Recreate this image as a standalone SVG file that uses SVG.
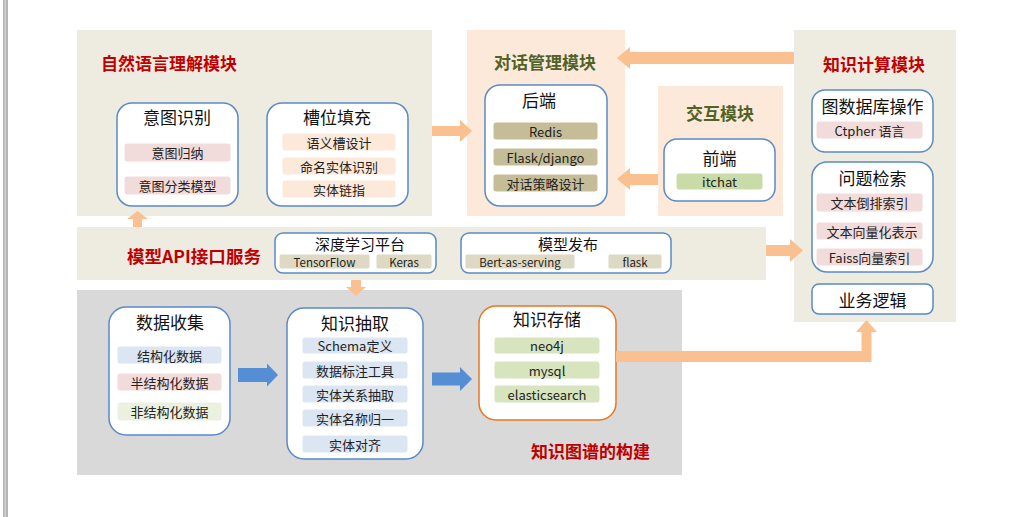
<svg xmlns="http://www.w3.org/2000/svg" width="1026" height="517" viewBox="0 0 1026 517">
<style>
.bg{fill:#fff}
.beige{fill:#EEEBE1}
.peachp{fill:#FDE9D9}
.gray{fill:#D9D9D9}
.box{fill:#fff;stroke:#5B8AC6;stroke-width:1.5}
.obox{fill:#fff;stroke:#E87722;stroke-width:1.5}
.pt{font-family:"Noto Sans CJK SC",sans-serif;font-size:17px;font-weight:bold;dominant-baseline:central}
.red{fill:#C00000}
.olive{fill:#4F6228}
.bt{font-family:"Noto Sans CJK SC",sans-serif;font-size:17px;fill:#111;text-anchor:middle;dominant-baseline:central}
.st{font-family:"Noto Sans CJK SC",sans-serif;font-size:15px;fill:#111;text-anchor:middle;dominant-baseline:central}
.lt{font-family:"Noto Sans CJK SC",sans-serif;font-size:13px;fill:#222;text-anchor:middle;dominant-baseline:central}
.sl{font-family:"Noto Sans CJK SC",sans-serif;font-size:11.5px;fill:#222;text-anchor:middle;dominant-baseline:central}
.pill{stroke:#fff;stroke-width:1}
.pink{fill:#F2DCDB}
.peach{fill:#FDE9D9}
.tan{fill:#C4BD97}
.ltan{fill:#DDD9C3}
.green{fill:#C9DBA6}
.lgreen{fill:#D7E4BD}
.vlgreen{fill:#EBF1DE}
.blue{fill:#DCE6F2}
.oarrow{fill:#FAC090}
.barrow{fill:#558ED5}
</style>
<rect class="bg" x="0" y="0" width="1026" height="517"/>
<rect x="3" y="0" width="5" height="517" fill="#B4B4B4"/>
<rect x="4.5" y="0" width="1.5" height="517" fill="#D0D0D0"/>

<!-- panels -->
<g id="nlu-panel">
  <rect class="beige" x="77" y="30" width="355" height="186"/>
  <text class="pt red" x="101" y="62">自然语言理解模块</text>
</g>
<g id="dialog-panel">
  <rect class="peachp" x="467" y="30" width="158" height="186"/>
  <text class="pt olive" x="545" y="61" text-anchor="middle">对话管理模块</text>
</g>
<g id="interact-panel">
  <rect class="peachp" x="658" y="86" width="125" height="130"/>
  <text class="pt olive" x="720" y="112" text-anchor="middle">交互模块</text>
</g>
<g id="kc-panel">
  <rect class="beige" x="794" y="30" width="162" height="292"/>
  <text class="pt red" x="874" y="63" text-anchor="middle">知识计算模块</text>
</g>
<g id="api-panel">
  <rect class="beige" x="77" y="227" width="689" height="53"/>
  <text class="pt red" x="127" y="255" font-size="16" textLength="134" lengthAdjust="spacingAndGlyphs">模型API接口服务</text>
</g>
<g id="kg-panel">
  <rect class="gray" x="77" y="290" width="605" height="185"/>
  <text class="pt red" x="531" y="450">知识图谱的构建</text>
</g>

<!-- nodes -->
<g id="intent">
  <rect class="box" x="117" y="103" width="121" height="103" rx="15"/>
  <text class="bt" x="177" y="116">意图识别</text>
  <rect class="pill pink" x="124" y="143" width="107" height="19" rx="3"/>
  <text class="lt" x="177.5" y="152.5">意图归纳</text>
  <rect class="pill pink" x="124" y="176" width="107" height="19" rx="3"/>
  <text class="lt" x="177.5" y="185.5">意图分类模型</text>
</g>
<g id="slot">
  <rect class="box" x="267" y="103" width="141" height="103" rx="15"/>
  <text class="bt" x="337" y="116">槽位填充</text>
  <rect class="pill peach" x="282" y="133" width="114" height="18" rx="3"/>
  <text class="lt" x="339" y="142">语义槽设计</text>
  <rect class="pill peach" x="282" y="157" width="114" height="18" rx="3"/>
  <text class="lt" x="339" y="166">命名实体识别</text>
  <rect class="pill peach" x="282" y="180" width="114" height="18" rx="3"/>
  <text class="lt" x="339" y="189">实体链指</text>
</g>
<g id="backend">
  <rect class="box" x="485" y="85" width="122" height="121" rx="15"/>
  <text class="bt" x="539" y="99">后端</text>
  <rect class="pill tan" x="493" y="122" width="105" height="18" rx="3"/>
  <text class="lt" x="545.5" y="131">Redis</text>
  <rect class="pill tan" x="493" y="148" width="105" height="18" rx="3"/>
  <text class="lt" x="545.5" y="157">Flask/django</text>
  <rect class="pill tan" x="493" y="174" width="105" height="18" rx="3"/>
  <text class="lt" x="545.5" y="183">对话策略设计</text>
</g>
<g id="frontend">
  <rect class="box" x="664" y="139" width="111" height="62" rx="13"/>
  <text class="bt" x="719.5" y="157">前端</text>
  <rect class="pill green" x="676" y="173" width="87" height="17" rx="3"/>
  <text class="lt" x="719.5" y="181.5">itchat</text>
</g>
<g id="graphdb">
  <rect class="box" x="812" y="90" width="121" height="62" rx="13"/>
  <text class="bt" x="872.5" y="105">图数据库操作</text>
  <rect class="pill pink" x="816" y="121" width="107" height="18" rx="3"/>
  <text class="lt" x="869.5" y="130">Ctpher 语言</text>
</g>
<g id="qsearch">
  <rect class="box" x="812" y="162" width="121" height="110" rx="15"/>
  <text class="bt" x="872.5" y="177">问题检索</text>
  <rect class="pill pink" x="816" y="193" width="107" height="19" rx="3"/>
  <text class="lt" x="869.5" y="202.5">文本倒排索引</text>
  <rect class="pill pink" x="816" y="222" width="107" height="18" rx="3"/>
  <text class="lt" x="872" y="231">文本向量化表示</text>
  <rect class="pill pink" x="816" y="248" width="107" height="18" rx="3"/>
  <text class="lt" x="869.5" y="257">Faiss向量索引</text>
</g>
<g id="bizlogic">
  <rect class="box" x="812" y="284" width="121" height="30" rx="7"/>
  <text class="bt" x="872.5" y="299">业务逻辑</text>
</g>
<g id="dlplatform">
  <rect class="box" x="275" y="233" width="161" height="40" rx="8"/>
  <text class="st" x="360" y="243.5">深度学习平台</text>
  <rect class="pill ltan" x="279" y="254" width="91" height="15" rx="2"/>
  <text class="sl" x="324.5" y="261.5">TensorFlow</text>
  <rect class="pill ltan" x="376" y="254" width="56" height="15" rx="2"/>
  <text class="sl" x="404" y="261.5">Keras</text>
</g>
<g id="deploy">
  <rect class="box" x="461" y="233" width="210" height="40" rx="8"/>
  <text class="st" x="568" y="243.5">模型发布</text>
  <rect class="pill ltan" x="465" y="254" width="110" height="15" rx="2"/>
  <text class="sl" x="520" y="261.5">Bert-as-serving</text>
  <rect class="pill ltan" x="608" y="254" width="54" height="15" rx="2"/>
  <text class="sl" x="635" y="261.5">flask</text>
</g>
<g id="collect">
  <rect class="box" x="109" y="307" width="121" height="128" rx="17"/>
  <text class="bt" x="170" y="321">数据收集</text>
  <rect class="pill blue" x="117" y="346" width="105" height="18" rx="3"/>
  <text class="lt" x="169.5" y="355">结构化数据</text>
  <rect class="pill pink" x="117" y="373" width="105" height="18" rx="3"/>
  <text class="lt" x="169.5" y="382">半结构化数据</text>
  <rect class="pill vlgreen" x="117" y="402" width="105" height="19" rx="3"/>
  <text class="lt" x="169.5" y="411.5">非结构化数据</text>
</g>
<g id="extract">
  <rect class="box" x="287" y="308" width="136" height="151" rx="17"/>
  <text class="bt" x="355" y="322">知识抽取</text>
  <rect class="pill blue" x="302" y="337" width="106" height="17" rx="3"/>
  <text class="lt" x="355" y="345.5">Schema定义</text>
  <rect class="pill blue" x="302" y="361" width="106" height="18" rx="3"/>
  <text class="lt" x="355" y="370">数据标注工具</text>
  <rect class="pill blue" x="302" y="385" width="106" height="18" rx="3"/>
  <text class="lt" x="355" y="394">实体关系抽取</text>
  <rect class="pill blue" x="302" y="409" width="106" height="18" rx="3"/>
  <text class="lt" x="355" y="418">实体名称归一</text>
  <rect class="pill blue" x="302" y="435" width="106" height="18" rx="3"/>
  <text class="lt" x="355" y="444">实体对齐</text>
</g>
<g id="storage">
  <rect class="obox" x="479" y="306" width="137" height="114" rx="17"/>
  <text class="bt" x="547" y="318">知识存储</text>
  <rect class="pill lgreen" x="494" y="337" width="106" height="17" rx="3"/>
  <text class="lt" x="547" y="345.5">neo4j</text>
  <rect class="pill lgreen" x="494" y="361" width="106" height="18" rx="3"/>
  <text class="lt" x="547" y="370">mysql</text>
  <rect class="pill lgreen" x="494" y="385" width="106" height="18" rx="3"/>
  <text class="lt" x="547" y="394">elasticsearch</text>
</g>

<!-- connectors -->
<g id="connectors">
  <polygon class="oarrow" points="432,126 460,126 460,120 472,131 460,142 460,136 432,136"/>
  <polygon class="oarrow" points="794,52 630,52 630,47 617,58 630,69 630,64 794,64"/>
  <polygon class="oarrow" points="658,174 630,174 630,168 617,179 630,190 630,185 658,185"/>
  <polygon class="oarrow" points="133,227 133,219 127,219 137.5,211 148,219 142,219 142,227"/>
  <polygon class="oarrow" points="351,280 361,280 361,287 366,287 356,296 346,287 351,287"/>
  <polygon class="oarrow" points="766,245 790,245 790,239 803,250.5 790,262 790,256 766,256"/>
  <polygon class="oarrow" points="616,351 861.5,351 861.5,332 856,332 866.5,320 877,332 871.5,332 871.5,362 616,362"/>
  <polygon class="barrow" points="238,368 267,368 267,363.5 278,375 267,386.5 267,382 238,382"/>
  <polygon class="barrow" points="432,372.5 460,372.5 460,367 472,379 460,391 460,385.5 432,385.5"/>
</g>
</svg>
